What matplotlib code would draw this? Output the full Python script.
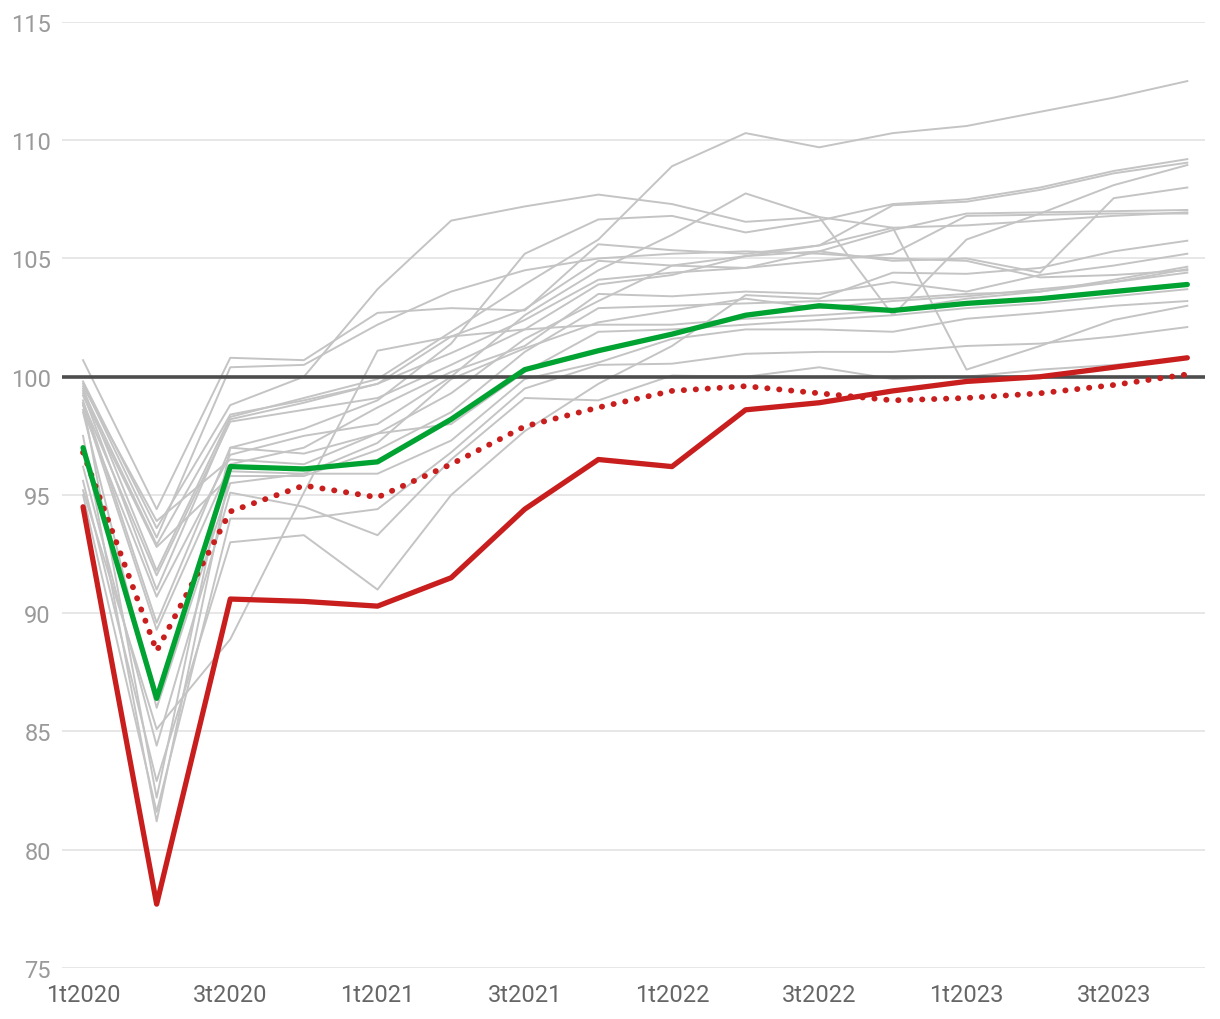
import matplotlib.pyplot as plt

# Trimestres
quarters = ["1t2020", "2t2020", "3t2020", "4t2020",
            "1t2021", "2t2021", "3t2021", "4t2021",
            "1t2022", "2t2022", "3t2022", "4t2022",
            "1t2023", "2t2023", "3t2023", "4t2023"]

# Series destacadas
green = [97.0, 86.4, 96.2, 96.1, 96.4, 98.2, 100.3, 101.1, 101.8, 102.6, 103.0, 102.8, 103.1, 103.3, 103.6, 103.9]
red = [94.5, 77.7, 90.6, 90.5, 90.3, 91.5, 94.4, 96.5, 96.2, 98.6, 98.9, 99.4, 99.8, 100.0, 100.4, 100.8]
red_dotted = [96.8, 88.4, 94.3, 95.4, 94.9, 96.3, 97.9, 98.7, 99.4, 99.6, 99.3, 99.0, 99.1, 99.3, 99.65, 100.1]

# Resto de países (gris)
grey_a = [99.5, 91.8, 98.3, 99.1, 99.9, 101.9, 103.9, 105.8, 108.9, 110.3, 109.7, 110.3, 110.6, 111.2, 111.8, 112.5]
grey_b = [99.0, 89.6, 97.0, 97.8, 99.0, 101.4, 105.2, 106.65, 106.8, 106.1, 106.6, 107.3, 107.5, 108.0, 108.7, 109.2]
grey_c = [100.7, 94.4, 100.8, 100.7, 102.7, 102.9, 102.8, 105.6, 105.35, 105.2, 105.55, 107.25, 107.4, 107.9, 108.6, 109.05]
grey_d = [98.6, 90.7, 96.7, 97.5, 98.0, 100.0, 102.6, 104.5, 106.0, 107.75, 106.75, 102.6, 105.8, 106.9, 108.1, 108.95]
grey_e = [95.2, 85.1, 88.9, 95.1, 101.1, 101.7, 102.85, 104.9, 104.7, 105.1, 105.3, 104.9, 105.0, 104.4, 107.55, 108.0]
grey_n = [99.8, 93.6, 98.8, 100.0, 103.7, 106.6, 107.2, 107.7, 107.3, 106.55, 106.75, 106.3, 100.3, 101.3, 102.4, 103.0]
grey_f = [99.4, 92.9, 98.4, 99.0, 99.7, 101.0, 102.4, 104.1, 104.4, 104.6, 105.3, 106.2, 106.9, 106.95, 107.0, 107.05]
grey_g = [98.9, 91.6, 98.1, 98.6, 99.1, 100.5, 102.0, 103.9, 104.3, 105.1, 105.55, 106.3, 106.4, 106.6, 106.8, 106.95]
grey_g2 = [99.6, 93.9, 96.5, 96.3, 97.6, 99.3, 101.6, 103.2, 104.7, 104.6, 104.9, 105.2, 106.8, 106.85, 106.9, 106.9]
grey_h = [95.6, 82.9, 93.0, 93.3, 91.0, 95.0, 97.7, 99.7, 101.3, 103.45, 103.3, 104.4, 104.35, 104.6, 105.3, 105.75]
grey_i = [98.8, 89.3, 96.3, 97.0, 98.7, 100.2, 101.3, 103.5, 103.4, 103.6, 103.5, 104.0, 103.6, 104.3, 104.7, 105.2]
grey_j = [99.2, 92.8, 95.8, 95.8, 96.9, 98.5, 101.05, 102.9, 103.0, 103.1, 103.2, 103.3, 103.5, 103.6, 104.1, 104.65]
grey_k = [98.5, 86.0, 95.5, 95.9, 97.2, 99.9, 101.2, 102.3, 102.8, 103.3, 102.9, 103.2, 103.4, 103.7, 104.0, 104.55]
grey_s = [99.7, 93.2, 100.4, 100.5, 102.2, 103.6, 104.5, 105.0, 105.2, 105.3, 105.2, 105.0, 104.9, 104.2, 104.3, 104.5]
grey_m = [99.3, 91.0, 98.2, 98.9, 99.7, 101.7, 102.0, 102.2, 102.2, 102.45, 102.6, 102.8, 103.3, 103.6, 104.0, 104.4]
grey_o = [98.9, 82.2, 97.0, 96.75, 97.6, 98.0, 100.2, 101.9, 102.0, 102.2, 102.4, 102.6, 102.9, 103.1, 103.4, 103.7]
grey_q = [97.5, 81.2, 96.0, 95.9, 95.9, 97.3, 99.9, 100.6, 101.6, 102.0, 102.0, 101.9, 102.45, 102.7, 103.0, 103.2]
grey_r = [95.0, 81.6, 94.0, 94.0, 94.4, 96.8, 99.5, 100.5, 100.55, 100.97, 101.05, 101.05, 101.3, 101.4, 101.7, 102.1]
grey_l = [96.2, 84.4, 95.1, 94.5, 93.3, 96.5, 99.1, 99.0, 100.05, 100.0, 100.4, 99.9, 100.0, 100.3, 100.5, 100.8]

greys = [grey_a, grey_b, grey_c, grey_d, grey_e, grey_n, grey_f, grey_g, grey_g2, grey_h,
         grey_i, grey_j, grey_k, grey_s, grey_m, grey_o, grey_q, grey_r, grey_l]

plt.rcParams['font.family'] = ['Roboto', 'DejaVu Sans']

fig = plt.figure(figsize=(12.2, 10.2), dpi=100)
ax = fig.add_axes([0.0508, 0.05, 0.9369, 0.9275])

x = list(range(len(quarters)))

for s in greys:
    ax.plot(x, s, color="#c4c4c4", lw=1.4, zorder=2)

ax.axhline(100, color="#4d4d4d", lw=2.6, zorder=3)

ax.plot(x, red_dotted, color="#c81e1e", lw=4.2, linestyle=(0, (0.05, 2.0)),
        dash_capstyle="round", zorder=4)
ax.plot(x, red, color="#c81e1e", lw=3.8, solid_capstyle="round", zorder=5)
ax.plot(x, green, color="#00a232", lw=3.8, solid_capstyle="round", zorder=6)

ax.set_xlim(-0.286, 15.24)
ax.set_ylim(75, 115)
ax.set_yticks(range(75, 116, 5))
ax.grid(axis="y", color="#e3e3e3", lw=1.2, zorder=0)
ax.set_xticks(x[::2])
ax.set_xticklabels(quarters[::2])
ax.tick_params(axis="y", length=0, labelsize=17, labelcolor="#9a9a9a", pad=8)
ax.tick_params(axis="x", length=0, labelsize=17, labelcolor="#666666", pad=11)
for sp in ax.spines.values():
    sp.set_visible(False)

fig.savefig("out.png", dpi=100)
